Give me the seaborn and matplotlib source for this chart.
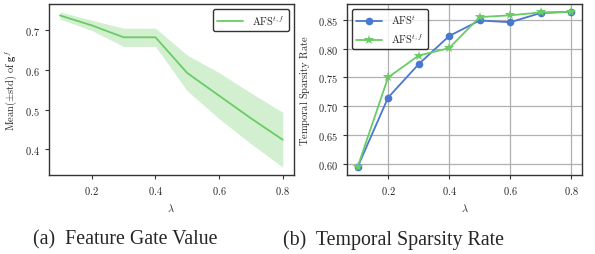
import numpy as np
import matplotlib
matplotlib.use("Agg")
import matplotlib.pyplot as plt
import seaborn as sns
from matplotlib.ticker import FormatStrFormatter

# lambda values shared by both panels
lam = [0.1, 0.2, 0.3, 0.4, 0.5, 0.6, 0.7, 0.8]

# (a) feature gate value, mean and std
gate_mean = [0.737, 0.712, 0.682, 0.682, 0.592, 0.535, 0.478, 0.424]
gate_std = [0.009, 0.013, 0.023, 0.023, 0.045, 0.058, 0.064, 0.069]

# (b) temporal sparsity rate
sparsity_t = [0.594, 0.715, 0.773, 0.822, 0.849, 0.846, 0.862, 0.864]
sparsity_tf = [0.594, 0.750, 0.788, 0.801, 0.855, 0.858, 0.863, 0.864]

sns.set_theme(style="ticks", palette="muted")
plt.rcParams["mathtext.fontset"] = "cm"
plt.rcParams["font.family"] = ["Liberation Serif", "DejaVu Serif"]

pal = sns.color_palette("muted")
blue, green = pal[0], pal[2]

fig = plt.figure(figsize=(5.95, 2.55), dpi=100)
ax1 = fig.add_axes([0.082, 0.31, 0.412, 0.67])
ax2 = fig.add_axes([0.583, 0.31, 0.395, 0.67])

# panel (a)
sns.lineplot(x=lam, y=gate_mean, ax=ax1, color=green, linewidth=1.3,
             label=r"$\mathrm{AFS}^{t,f}$")
lo = np.array(gate_mean) - np.array(gate_std)
hi = np.array(gate_mean) + np.array(gate_std)
ax1.fill_between(lam, lo, hi, color=green, alpha=0.3, linewidth=0)
ax1.set_ylabel(r"$\mathrm{Mean}(\pm\mathrm{std})\ \mathrm{of}\ \mathbf{g}^f$", fontsize=7.5)
ax1.set_yticks([0.4, 0.5, 0.6, 0.7])
ax1.legend(loc="upper right", fontsize=7.5, frameon=True, edgecolor="black",
           fancybox=True, handlelength=2.5)

# panel (b)
sns.lineplot(x=lam, y=sparsity_t, ax=ax2, color=blue, marker="o", markersize=5.5,
             markeredgewidth=0, linewidth=1.3, label=r"$\mathrm{AFS}^{t}$")
sns.lineplot(x=lam, y=sparsity_tf, ax=ax2, color=green, marker="*", markersize=7,
             markeredgewidth=0, linewidth=1.3, label=r"$\mathrm{AFS}^{t,f}$")
ax2.set_ylabel(r"$\mathrm{Temporal\ Sparsity\ Rate}$", fontsize=7.5)
ax2.set_yticks([0.60, 0.65, 0.70, 0.75, 0.80, 0.85])
ax2.yaxis.set_major_formatter(FormatStrFormatter(r"$%.2f$"))
ax2.grid(True, color="#b0b0b0", linewidth=0.9)
ax2.set_axisbelow(True)
ax2.legend(loc="upper left", fontsize=7.5, frameon=True, edgecolor="black",
           fancybox=True, handlelength=2.5)

for ax in (ax1, ax2):
    ax.set_xticks([0.2, 0.4, 0.6, 0.8])
    ax.xaxis.set_major_formatter(FormatStrFormatter(r"$%.1f$"))
    if ax is ax1:
        ax.yaxis.set_major_formatter(FormatStrFormatter(r"$%.1f$"))
    ax.set_xlabel(r"$\lambda$", fontsize=7.5)
    ax.tick_params(labelsize=7.5, length=3, width=0.8, color="0.2")
    for s in ax.spines.values():
        s.set_color("0.2")
        s.set_linewidth(1.0)

fig.text(0.21, 0.058, "(a)  Feature Gate Value", ha="center", va="center", fontsize=14.3)
fig.text(0.662, 0.058, "(b)  Temporal Sparsity Rate", ha="center", va="center", fontsize=14.3)

fig.savefig("out.png", dpi=100)
